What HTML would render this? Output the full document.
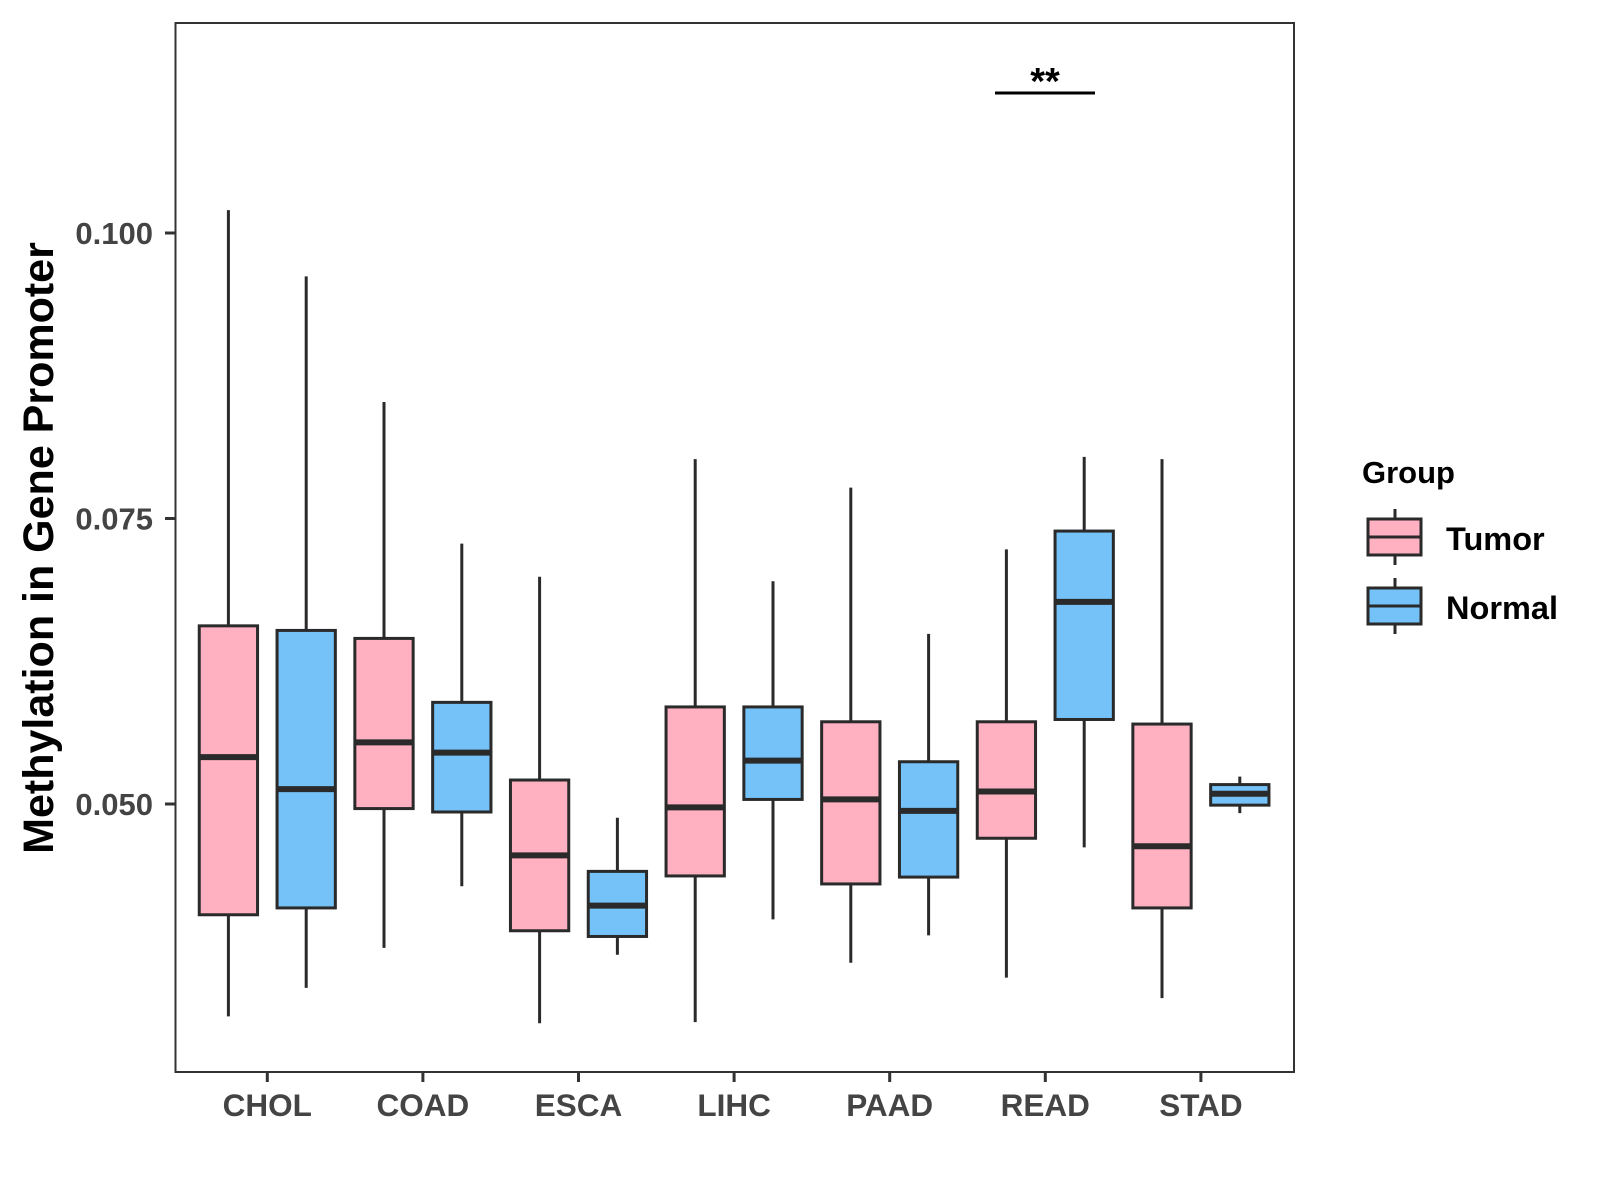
<!DOCTYPE html>
<html><head><meta charset="utf-8"><style>
body{margin:0;background:#fff}
svg{display:block;font-family:"Liberation Sans",Arial,sans-serif;font-weight:bold}
</style></head><body>
<svg id="chart" width="1600" height="1200" viewBox="0 0 1600 1200">
<rect x="175.5" y="23" width="1118.5" height="1049" fill="#fff" stroke="#333" stroke-width="2"/>
<g id="boxes"></g>
<g id="axes"></g>
<g>
<line x1="995" y1="93" x2="1095" y2="93" stroke="#000" stroke-width="3"/>
<text x="1045" y="94" text-anchor="middle" font-size="38" fill="#000">**</text>
</g>
<text transform="translate(53,548) rotate(-90)" text-anchor="middle" font-size="43" fill="#000">Methylation in Gene Promoter</text>
<g>
<text x="1362" y="483" font-size="31" fill="#000">Group</text>
<g>
<line x1="1395" y1="509" x2="1395" y2="565" stroke="#2a2a2a" stroke-width="3"/>
<rect x="1368" y="519" width="53" height="36" fill="#FFB0C1" stroke="#2a2a2a" stroke-width="3"/>
<line x1="1368" y1="537" x2="1421" y2="537" stroke="#2a2a2a" stroke-width="3"/>
<text x="1446" y="550" font-size="32.5" fill="#000">Tumor</text>
</g>
<g>
<line x1="1395" y1="578" x2="1395" y2="634" stroke="#2a2a2a" stroke-width="3"/>
<rect x="1368" y="588" width="53" height="36" fill="#74C2F8" stroke="#2a2a2a" stroke-width="3"/>
<line x1="1368" y1="606" x2="1421" y2="606" stroke="#2a2a2a" stroke-width="3"/>
<text x="1446" y="619" font-size="32.5" fill="#000">Normal</text>
</g>
</g>
</svg>
<script>
const categories = ["CHOL","COAD","ESCA","LIHC","PAAD","READ","STAD"];
// [lowWhisker, Q1, median, Q3, highWhisker]
const tumorStats = [
 [0.0314,0.0403,0.0541,0.0656,0.1020],
 [0.0374,0.0496,0.0554,0.0645,0.0852],
 [0.0308,0.0389,0.0455,0.0521,0.0699],
 [0.0309,0.0437,0.0497,0.0585,0.0802],
 [0.0361,0.0430,0.0504,0.0572,0.0777],
 [0.0348,0.0470,0.0511,0.0572,0.0723],
 [0.0330,0.0409,0.0463,0.0570,0.0802]
];
const normalStats = [
 [0.0339,0.0409,0.0513,0.0652,0.0962],
 [0.0428,0.0493,0.0545,0.0589,0.0728],
 [0.0368,0.0384,0.0411,0.0441,0.0488],
 [0.0399,0.0504,0.0538,0.0585,0.0695],
 [0.0385,0.0436,0.0494,0.0537,0.0649],
 [0.0462,0.0574,0.0677,0.0739,0.0804],
 [0.0492,0.0499,0.0509,0.0517,0.0524]
];
const yTicks = [0.050,0.075,0.100];
const yTickLabels = ["0.050","0.075","0.100"];

const NS="http://www.w3.org/2000/svg";
function y(v){return 804-(v-0.05)*11420;}
function xc(i){return 267.3+i*155.6;}
function mk(tag,attrs,parent){const e=document.createElementNS(NS,tag);for(const k in attrs)e.setAttribute(k,attrs[k]);parent.appendChild(e);return e;}
const boxes=document.getElementById('boxes');
const axes=document.getElementById('axes');
const bw=58.3, off=38.9;
function drawBox(s,cx,fill,name){
 const g=mk('g',{},boxes);
 
 
 mk('line',{x1:cx,x2:cx,y1:y(s[4]),y2:y(s[0]),stroke:'#2a2a2a','stroke-width':3},g);
 mk('rect',{x:cx-bw/2,y:y(s[3]),width:bw,height:y(s[1])-y(s[3]),fill:fill,stroke:'#2a2a2a','stroke-width':3},g);
 mk('line',{x1:cx-bw/2,x2:cx+bw/2,y1:y(s[2]),y2:y(s[2]),stroke:'#2a2a2a','stroke-width':6},g);
}
categories.forEach((c,i)=>{
 drawBox(tumorStats[i],xc(i)-off,'#FFB0C1','box-'+c.toLowerCase()+'-tumor');
 drawBox(normalStats[i],xc(i)+off,'#74C2F8','box-'+c.toLowerCase()+'-normal');
 mk('line',{x1:xc(i),x2:xc(i),y1:1072,y2:1082,stroke:'#333','stroke-width':3},axes);
 const t=mk('text',{x:xc(i),y:1116,'text-anchor':'middle','font-size':31.5,fill:'#444'},axes);
 t.textContent=c;
 
 
});
yTicks.forEach((v,i)=>{
 mk('line',{x1:165,x2:175,y1:y(v),y2:y(v),stroke:'#333','stroke-width':3},axes);
 const t=mk('text',{x:153,y:y(v)+11,'text-anchor':'end','font-size':31,fill:'#444'},axes);
 t.textContent=yTickLabels[i];
 
 
});
</script>
</body></html>
